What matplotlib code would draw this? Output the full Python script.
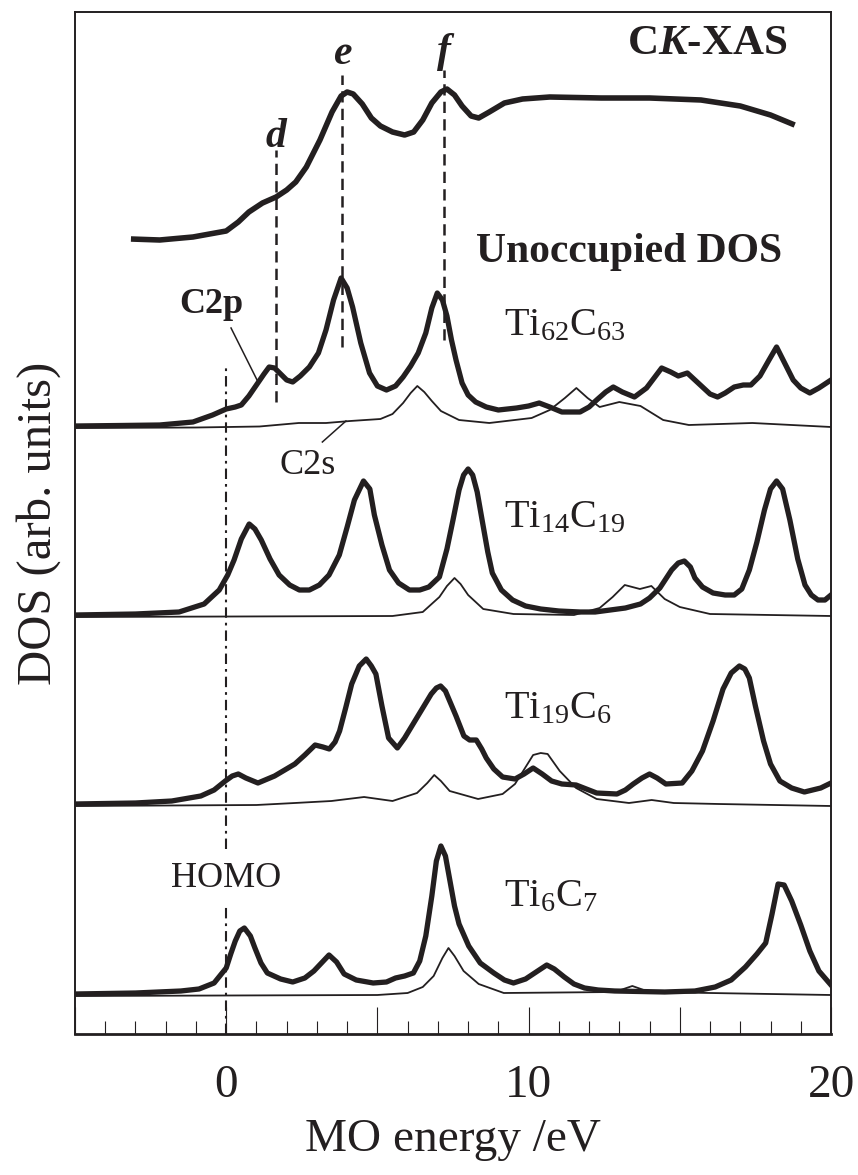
# C K-edge XAS vs. unoccupied DOS of TiC clusters
import matplotlib
matplotlib.use('Agg')
import matplotlib.pyplot as plt

plt.rcParams['font.family'] = ['Liberation Serif', 'DejaVu Serif']
plt.rcParams['mathtext.fontset'] = 'custom'
plt.rcParams['mathtext.rm'] = 'Liberation Serif'
plt.rcParams['mathtext.it'] = 'Liberation Serif:italic'
plt.rcParams['mathtext.bf'] = 'Liberation Serif:bold'
plt.rcParams['mathtext.bfit'] = 'Liberation Serif:bold:italic'

INK = '#231f20'

# ---- data (energy in eV, intensity in arb. units) ----
xas_e = [-3.15, -2.2, -1.1, 0.0, 0.4, 0.75, 1.2, 1.65, 2.0, 2.3, 2.65, 3.1, 3.5, 3.8, 4.0,
         4.2, 4.5, 4.8, 5.1, 5.5, 5.9, 6.2, 6.5, 6.8, 7.1, 7.3, 7.55, 7.8, 8.1, 8.35,
         8.7, 9.2, 9.8, 10.7, 12.4, 14.0, 15.7, 17.0, 18.0, 18.8]
xas_i = [1, 0, 3, 9, 18, 28, 37, 43, 50, 58, 73, 100, 128, 144, 148,
         146, 136, 122, 114, 108, 105, 108, 120, 137, 148, 151, 145, 134, 124, 122,
         128, 137, 141, 143, 142, 142, 140, 134, 125, 115]

# Ti62C63
t62_p_e = [-5, -3.5, -2.2, -1.1, -0.45, 0, 0.3, 0.5, 0.75, 1.0, 1.25, 1.42, 1.6, 1.8, 2.0,
           2.2, 2.45, 2.75, 3.05, 3.3, 3.55, 3.8, 4.0, 4.18, 4.45, 4.74, 5.0, 5.3, 5.6,
           5.85, 6.1, 6.35, 6.6, 6.8, 6.98, 7.15, 7.3, 7.45, 7.6, 7.8, 8.0, 8.25, 8.6,
           9.0, 9.6, 10.0, 10.35, 10.7, 11.1, 11.7, 12.0, 12.25, 12.55, 12.8, 13.1, 13.5,
           13.9, 14.2, 14.4, 14.7, 14.95, 15.25, 15.5, 15.75, 16.0, 16.25, 16.5, 16.8,
           17.1, 17.35, 17.65, 17.95, 18.2, 18.45, 18.75, 19.0, 19.3, 19.6, 20]
t62_p_i = [2, 2.5, 3, 6, 13, 19, 21, 23, 32, 43, 54, 61, 60, 54, 48,
           46, 52, 61, 75, 98, 128, 150, 140, 121, 85, 55, 42, 38, 42,
           51, 62, 75, 95, 120, 135, 128, 112, 88, 68, 45, 33, 26, 21,
           18, 20, 22, 25, 21, 16, 16, 21, 28, 36, 41, 36, 31,
           40, 52, 60, 56, 52, 55, 48, 41, 34, 31, 35, 41,
           43, 43, 52, 68, 81, 66, 48, 40, 35, 40, 48]
t62_s_e = [-5, -1, 1.1, 2.4, 3.3, 4.1, 5.1, 5.5, 5.85, 6.1, 6.32, 6.55, 6.8, 7.1, 7.7,
           8.7, 10.1, 10.7, 11.2, 11.58, 11.95, 12.35, 13.0, 13.7, 14.45, 15.3, 17.4, 20.0]
t62_s_i = [0, 0.5, 1.5, 5, 5, 7, 9, 14, 25, 35, 42, 36, 27, 17, 8,
           5, 10, 18, 30, 40, 30, 21, 26, 22, 8, 3, 5, 1]

# Ti14C19
t14_p_e = [-5, -3, -1.56, -0.73, -0.23, 0.05, 0.26, 0.5, 0.76, 0.95, 1.16, 1.45, 1.75, 2.1,
           2.42, 2.75, 3.08, 3.4, 3.74, 4.0, 4.24, 4.54, 4.75, 4.9, 5.15, 5.4, 5.7, 6.06,
           6.4, 6.7, 7.05, 7.3, 7.5, 7.7, 7.85, 8.0, 8.15, 8.3, 8.48, 8.65, 8.8, 9.1,
           9.47, 9.9, 10.4, 11.0, 11.7, 12.2, 12.7, 13.2, 13.7, 14.0, 14.34, 14.73, 14.95,
           15.15, 15.35, 15.5, 15.75, 16.1, 16.5, 16.8, 17.05, 17.3, 17.55, 17.8, 18.0,
           18.2, 18.4, 18.64, 18.9, 19.14, 19.35, 19.57, 19.8, 20]
t14_p_i = [2, 3, 5, 13, 27, 42, 57, 78, 93, 88, 77, 58, 42, 32,
           27, 27, 32, 42, 62, 90, 117, 136, 128, 102, 72, 47, 34, 27,
           27, 30, 40, 68, 97, 127, 142, 148, 142, 125, 94, 65, 44, 27,
           17, 11, 8, 6, 5, 5, 7, 9, 13, 19, 29, 47, 54,
           56, 50, 39, 30, 24, 22, 22, 28, 47, 75, 107, 128,
           136, 128, 97, 58, 32, 22, 17, 17, 22]
t14_s_e = [-5, 5.5, 6.5, 7.05, 7.3, 7.55, 7.75, 8.0, 8.5, 9.5, 11.5, 12.35, 12.78, 13.18,
           13.68, 14.06, 14.5, 15.0, 16.0, 20.0]
t14_s_i = [0, 1, 5, 20, 31, 39, 33, 22, 8, 3, 2, 9, 20, 32,
           28, 31, 18, 10, 3, 1]

# Ti19C6
t19_p_e = [-5, -3, -1.8, -0.84, -0.4, -0.03, 0.2, 0.4, 0.65, 1.05, 1.6, 2.27, 2.6, 2.94,
           3.2, 3.41, 3.6, 3.75, 3.95, 4.15, 4.4, 4.63, 4.8, 4.95, 5.15, 5.37, 5.66, 5.9,
           6.18, 6.5, 6.78, 6.95, 7.09, 7.25, 7.39, 7.6, 7.86, 8.05, 8.27, 8.45, 8.6,
           8.85, 9.14, 9.55, 9.85, 10.15, 10.45, 10.76, 11.1, 11.57, 12.25, 12.92, 13.2,
           13.46, 13.75, 14.0, 14.25, 14.54, 15.08, 15.4, 15.75, 16.1, 16.43, 16.7, 16.97,
           17.15, 17.3, 17.5, 17.77, 18.0, 18.31, 18.7, 19.12, 19.66, 20]
t19_p_i = [2, 3, 5, 10, 16, 25, 30, 32, 28, 23, 30, 42, 51, 61,
           59, 57, 64, 75, 98, 122, 140, 147, 140, 132, 100, 68, 58, 68,
           82, 98, 112, 118, 120, 115, 105, 90, 70, 66, 66, 57, 48,
           37, 29, 27, 32, 38, 32, 25, 22, 21, 13, 12, 16,
           22, 28, 32, 28, 22, 23, 35, 55, 85, 117, 133, 140,
           137, 128, 100, 65, 42, 25, 18, 14, 18, 23]
t19_s_e = [-5, 1.0, 2.27, 3.48, 4.56, 5.5, 6.31, 6.65, 6.88, 7.1, 7.39, 8.33, 9.14, 9.55,
           9.82, 10.15, 10.4, 10.63, 11.03, 11.57, 12.25, 13.32, 14.07, 14.8, 16.29, 20.0]
t19_s_i = [0, 1, 3, 5, 9, 5, 13, 23, 31, 25, 15, 7, 12, 22,
           35, 51, 53, 52, 35, 18, 7, 3, 6, 3, 2, 0]

# Ti6C7
t6_p_e = [-5, -3, -1.5, -0.9, -0.4, 0, 0.15, 0.3, 0.45, 0.6, 0.8, 0.95, 1.15, 1.36, 1.8,
          2.2, 2.6, 2.9, 3.15, 3.4, 3.65, 3.9, 4.3, 4.86, 5.3, 5.6, 5.9, 6.19, 6.4, 6.6,
          6.8, 6.95, 7.1, 7.25, 7.4, 7.55, 7.7, 8.02, 8.4, 8.85, 9.2, 9.5, 9.9, 10.2,
          10.4, 10.6, 10.85, 11.18, 11.5, 11.85, 12.3, 12.85, 14.5, 15.5, 16.17, 16.7,
          17.17, 17.55, 17.84, 18.05, 18.25, 18.45, 18.7, 19.0, 19.3, 19.6, 20]
t6_p_i = [2, 3, 5, 7, 13, 28, 42, 55, 65, 68, 60, 48, 33, 23, 17,
          14, 18, 25, 33, 41, 34, 22, 16, 13, 14, 18, 20, 23, 35, 60,
          100, 135, 150, 140, 115, 90, 72, 50, 33, 23, 16, 13, 17, 23,
          27, 31, 27, 19, 12, 8, 6, 5, 4, 5, 9, 16,
          29, 42, 53, 82, 112, 111, 95, 71, 45, 25, 11]
t6_s_e = [-5, 5.0, 6.0, 6.5, 6.86, 7.15, 7.35, 7.55, 7.85, 8.35, 9.18, 12.85, 13.43, 14.0, 20.0]
t6_s_i = [0, 1, 3, 9, 20, 38, 48, 40, 25, 12, 3, 4, 10, 4, 1]

names = [r'Ti$_{\mathrm{62}}$C$_{\mathrm{63}}$', r'Ti$_{\mathrm{14}}$C$_{\mathrm{19}}$',
         r'Ti$_{\mathrm{19}}$C$_{\mathrm{6}}$', r'Ti$_{\mathrm{6}}$C$_{\mathrm{7}}$']
c2p = [(t62_p_e, t62_p_i), (t14_p_e, t14_p_i), (t19_p_e, t19_p_i), (t6_p_e, t6_p_i)]
c2s = [(t62_s_e, t62_s_i), (t14_s_e, t14_s_i), (t19_s_e, t19_s_i), (t6_s_e, t6_s_i)]

# vertical offsets of each stacked spectrum (axis units)
offsets = [606, 417, 228, 38]
xas_offset = 794
name_y = [699, 507, 316, 128]

fig = plt.figure(figsize=(8.58, 11.75), dpi=100)
ax = fig.add_axes([75 / 858, 1 - 1034 / 1175, 756 / 858, 1022 / 1175])

ax.plot(xas_e, [v + xas_offset for v in xas_i], color=INK, lw=4.0,
        solid_capstyle='butt', solid_joinstyle='round')

for (pe, pi), (se, si), off, nm, ny in zip(c2p, c2s, offsets, names, name_y):
    ax.plot(se, [v + off for v in si], color=INK, lw=1.3, solid_joinstyle='round')
    ax.plot(pe, [v + off for v in pi], color=INK, lw=3.8, solid_joinstyle='round')
    ax.text(9.2, ny, nm, fontsize=29, color=INK, ha='left', va='baseline')

# feature lines d, e, f
for xe, y0, y1, lab, ly in [(1.65, 632, 884, 'd', 887), (3.84, 687, 959, 'e', 970),
                            (7.19, 694, 964, 'f', 972)]:
    ax.plot([xe, xe], [y0, y1], color=INK, lw=1.8, linestyle=(0, (4.5, 2.5)))
    ax.text(xe, ly, lab, fontsize=30, fontweight='bold', fontstyle='italic',
            color=INK, ha='center', va='baseline')

# HOMO line
ax.plot([0, 0], [0, 667], color=INK, lw=1.5, linestyle=(0, (5, 2.4, 1.3, 2.4)))
ax.text(0, 147, 'HOMO', fontsize=26, color=INK, ha='center', va='baseline',
        bbox=dict(facecolor='white', edgecolor='none', pad=6))

ax.text(18.55, 980, r'C$\mathbfit{K}$-XAS', fontsize=31, fontweight='bold',
        color=INK, ha='right', va='baseline')
ax.text(18.4, 772, 'Unoccupied DOS', fontsize=30, fontweight='bold',
        color=INK, ha='right', va='baseline')

ax.text(-1.56, 721, 'C2p', fontsize=26, fontweight='bold', color=INK, va='baseline')
ax.plot([0.16, 1.07], [706, 651], color=INK, lw=1.1)
ax.text(1.75, 560, 'C2s', fontsize=26, color=INK, va='baseline')
ax.plot([3.18, 3.96], [592, 613], color=INK, lw=1.1)

ax.set_xlim(-5, 20)
ax.set_ylim(0, 1022)
ax.set_xticks([-5, 0, 5, 10, 15, 20])
ax.set_xticklabels(['', '0', '', '10', '', '20'])
ax.set_xticks(range(-5, 21), minor=True)
ax.set_yticks([])
ax.tick_params(axis='x', which='major', direction='in', length=19.5, width=0.8,
               pad=22, labelsize=34, colors=INK)
ax.tick_params(axis='x', which='minor', direction='in', length=9.5, width=0.8, colors=INK)
for s in ax.spines.values():
    s.set_color(INK)
    s.set_linewidth(1.4)
ax.spines['bottom'].set_linewidth(2.0)

ax.set_xlabel('MO energy /eV', fontsize=34, color=INK, labelpad=8)
ax.set_ylabel('DOS (arb. units)', fontsize=35, color=INK, labelpad=10)

fig.savefig('out.png', dpi=100)
